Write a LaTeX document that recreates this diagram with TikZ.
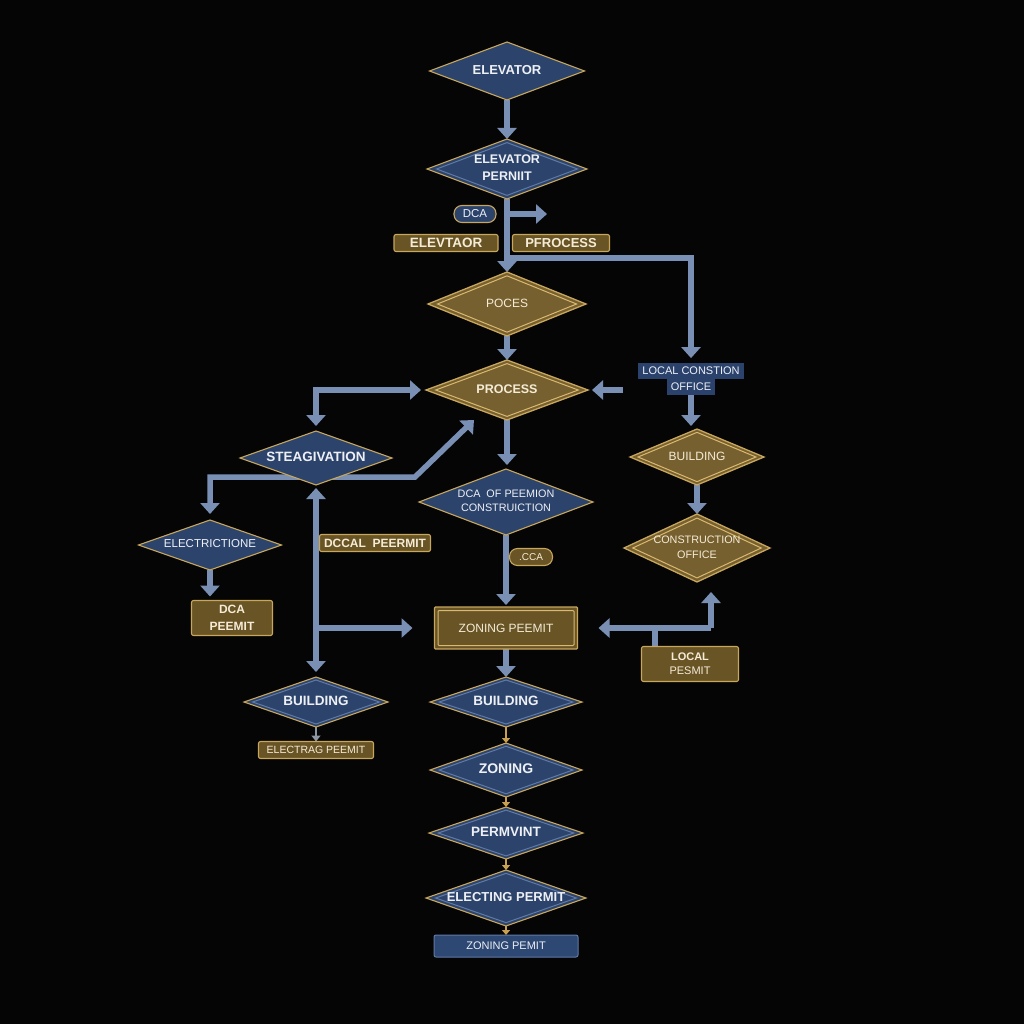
\documentclass[tikz,border=0pt]{standalone}
\usepackage{fontspec}
\setmainfont{Liberation Sans}
\usetikzlibrary{shapes.geometric,arrows.meta,calc}
\pgfdeclarelayer{back}
\pgfdeclarelayer{links}
\pgfsetlayers{back,links,main}
\definecolor{bgc}{RGB}{5,5,5}
\definecolor{bluef}{RGB}{44,68,108}
\definecolor{bluef2}{RGB}{45,72,115}
\definecolor{goldf}{RGB}{118,96,48}
\definecolor{goldf2}{RGB}{105,84,38}
\definecolor{goldl}{RGB}{200,166,92}
\definecolor{lblue}{RGB}{96,122,165}
\definecolor{lgold}{RGB}{218,184,110}
\definecolor{arrc}{RGB}{122,143,180}
\definecolor{txtc}{RGB}{238,240,245}
\definecolor{ctxt}{RGB}{245,236,214}
\definecolor{lcob}{RGB}{42,66,108}
\definecolor{sgold}{RGB}{200,160,80}
\definecolor{grayarr}{RGB}{140,150,165}
\newcommand\dt[1]{\makebox[0pt]{\begin{tabular}{@{}c@{}}#1\end{tabular}}}
\tikzset{
  x=1pt, y=-1pt,
  every node/.style={inner sep=0pt, outer sep=0pt, text=txtc},
  f/.style 2 args={font=\fontsize{#1}{#2}\selectfont},
  fb/.style 2 args={font=\fontsize{#1}{#2}\selectfont\bfseries},
  bdia/.style={diamond, fill=bluef, draw=goldl, line width=1.1pt},
  gdia/.style={diamond, fill=goldf, draw=goldl, line width=1.3pt, text=ctxt},
  innerline/.style={path picture={\draw[#1, line width=1pt]
     ($(path picture bounding box.center)!0.88!(path picture bounding box.north)$) --
     ($(path picture bounding box.center)!0.88!(path picture bounding box.east)$) --
     ($(path picture bounding box.center)!0.88!(path picture bounding box.south)$) --
     ($(path picture bounding box.center)!0.88!(path picture bounding box.west)$) -- cycle;}},
  gbox/.style={rectangle, rounded corners=2pt, fill=goldf2, draw=goldl, line width=1.1pt, text=ctxt},
  pill/.style={rectangle, rounded corners=8pt, line width=1.1pt, draw=goldl},
  arr/.style={draw=arrc, line width=5.5pt, -{Triangle[width=19pt,length=11pt]}},
  both/.style={draw=arrc, line width=5.5pt, {Triangle[width=19pt,length=11pt]}-{Triangle[width=19pt,length=11pt]}},
  link/.style={draw=arrc, line width=5.5pt},
  sarr/.style={draw=sgold, line width=2pt, -{Triangle[width=8pt,length=5pt]}},
  garr/.style={draw=grayarr, line width=2.5pt, -{Triangle[width=9pt,length=6pt]}},
}
\begin{document}
\begin{tikzpicture}
\begin{pgfonlayer}{back}
\fill[bgc] (0,0) rectangle (1024,1024);
\end{pgfonlayer}
\useasboundingbox (0,0) rectangle (1024,1024);

% central column
\node[bdia, minimum width=155pt, minimum height=58pt, fb={13}{16}] (elev) at (507,71) {\dt{ELEVATOR}};
\node[bdia, innerline=lblue, minimum width=160pt, minimum height=60pt, fb={12.5}{17}] (elevp) at (507,169) {\dt{ELEVATOR\\PERNIIT}};
\node[pill, fill=bluef, f={11.5}{14}, minimum width=42pt, minimum height=17pt] (dca) at (475,214) {DCA};
\node[gbox, fb={13.5}{16}, minimum width=104pt, minimum height=17pt] (elevt) at (446,243) {ELEVTAOR};
\node[gbox, fb={13}{16}, minimum width=97pt, minimum height=17pt] (pfro) at (561,243) {PFROCESS};
\node[gdia, innerline=lgold, minimum width=158pt, minimum height=64pt, f={12}{16}] (poces) at (507,304) {\dt{POCES}};
\node[gdia, innerline=lgold, minimum width=162pt, minimum height=60pt, fb={12.5}{16}] (process) at (507,390) {\dt{PROCESS}};
\node[bdia, minimum width=174pt, minimum height=66pt, f={10.8}{14}] (dcaop) at (506,502) {\dt{DCA~~OF PEEMION\\CONSTRUICTION}};
\node[pill, fill=goldf2, text=ctxt, f={10}{12}, minimum width=43pt, minimum height=17pt] (cca) at (531,557) {.CCA};
\node[gbox, rounded corners=1pt, line width=1.3pt, f={12}{16}, minimum width=143pt, minimum height=42pt,
  path picture={\draw[lgold, line width=1pt] ([shift={(3.5pt,3.5pt)}]path picture bounding box.south west) rectangle ([shift={(-3.5pt,-3.5pt)}]path picture bounding box.north east);}] (zon) at (506,628) {ZONING PEEMIT};
\node[bdia, innerline=lblue, minimum width=152pt, minimum height=50pt, fb={13.5}{16}] (bldc) at (506,702) {\dt{BUILDING}};
\node[bdia, innerline=lblue, minimum width=152pt, minimum height=54pt, fb={14}{16}] (zoning) at (506,770) {\dt{ZONING}};
\node[bdia, innerline=lblue, minimum width=154pt, minimum height=52pt, fb={13.5}{16}] (perm) at (506,833) {\dt{PERMVINT}};
\node[bdia, innerline=lblue, minimum width=160pt, minimum height=56pt, fb={13}{16}] (elecp) at (506,898) {\dt{ELECTING PERMIT}};
\node[rectangle, rounded corners=2pt, fill=bluef2, draw=lblue, line width=1pt, f={11}{14}, minimum width=144pt, minimum height=22pt] (zp) at (506,946) {ZONING PEMIT};

% left side
\node[bdia, minimum width=152pt, minimum height=54pt, fb={13.5}{16}] (stea) at (316,458) {\dt{STEAGIVATION}};
\node[bdia, minimum width=143pt, minimum height=50pt, f={11.5}{14}] (elec) at (210,545) {\dt{ELECTRICTIONE}};
\node[gbox, fb={12}{17}, align=center, minimum width=81pt, minimum height=35pt] (dcap) at (232,618) {DCA\\PEEMIT};
\node[gbox, fb={12}{16}, minimum width=111pt, minimum height=17pt] (dccal) at (375,543) {DCCAL~~PEERMIT};
\node[bdia, innerline=lblue, minimum width=144pt, minimum height=50pt, fb={13.5}{16}] (bldl) at (316,702) {\dt{BUILDING}};
\node[gbox, f={10.5}{14}, minimum width=115pt, minimum height=17pt] (ebox) at (316,750) {ELECTRAG PEEMIT};

% right side
\node[align=center, font={\fontsize{11}{16}\selectfont\setlength{\fboxsep}{4pt}}] (lco) at (691,379) {\colorbox{lcob}{LOCAL CONSTION}\\\colorbox{lcob}{OFFICE}};
\node[gdia, innerline=lgold, minimum width=134pt, minimum height=56pt, f={12}{16}] (bldr) at (697,457) {\dt{BUILDING}};
\node[gdia, innerline=lgold, minimum width=146pt, minimum height=68pt, f={10.8}{15}] (co) at (697,548) {\dt{CONSTRUCTION\\OFFICE}};
\node[gbox, f={11}{14}, align=center, minimum width=97pt, minimum height=35pt] (lp) at (690,664) {{\bfseries LOCAL}\\PESMIT};

% free ends and joints
\coordinate (dcaend) at (547,214);
\coordinate (br1) at (507,258);
\coordinate (lcoarr) at (623,390);
\coordinate (dg1) at (415,477);
\coordinate (dg2) at (474,420);
\coordinate (zb) at (316,628);
\coordinate (lpj) at (655,628);
\coordinate (lpc) at (711,628);

\begin{pgfonlayer}{links}
\draw[arr] (elev.south) -- (elevp.north);
\draw[arr] (elevp.south) -- (poces.north);
\draw[arr] (elevp.south |- dcaend) -- (dcaend);
\draw[arr, shorten >=5pt] (br1) -| (lco.north);
\draw[arr] (poces.south) -- (process.north);
\draw[arr, shorten >=4pt] (process.south) -- (process.south |- dcaop.north);
\draw[arr, shorten >=4pt] (lcoarr) -- (lcoarr -| process.east);
\draw[both, shorten <=5pt, shorten >=5pt] (stea.north) |- (process.west);
\draw[both, shorten <=6pt] (elec.north) |- (dg1) -- (dg2);
\draw[arr, shorten >=4pt] (elec.south) -- (elec.south |- dcap.north);
\draw[both, shorten <=3pt, shorten >=5pt] (stea.south) -- (stea.south |- bldl.north);
\draw[arr, shorten >=22pt] (zb) -- (zb -| zon.west);
\draw[garr] (bldl.south) -- (ebox.north);
\draw[arr, shorten >=2pt] (dcaop.south) -- (dcaop.south |- zon.north);
\draw[arr] (zon.south) -- (bldc.north);
\draw[sarr] (bldc.south) -- (zoning.north);
\draw[sarr] (zoning.south) -- (perm.north);
\draw[sarr] (perm.south) -- (elecp.north);
\draw[sarr] (elecp.south) -- (zp.north);
\draw[arr, shorten >=3pt] (lco.south) -- (lco.south |- bldr.north);
\draw[arr] (bldr.south) -- (co.north);
\draw[link] (lpj |- lp.north) -- (lpj);
\draw[arr, shorten >=21pt] (lpc) -- (lpc -| zon.east);
\draw[arr, shorten >=10pt] (lpc) -- (lpc |- co.south);
\end{pgfonlayer}
\end{tikzpicture}
\end{document}
